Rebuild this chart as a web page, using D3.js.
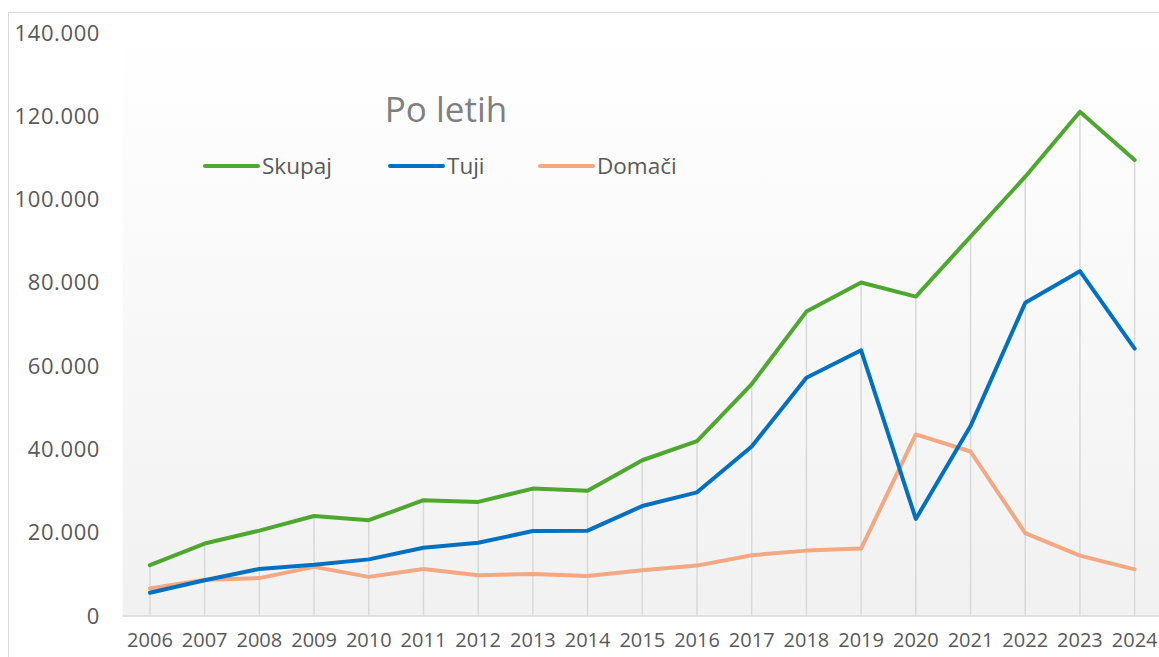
<!DOCTYPE html>
<html>
<head>
<meta charset="utf-8">
<script src="https://cdn.jsdelivr.net/npm/d3@7"></script>
<style>
  html, body { margin: 0; padding: 0; background: #fff; }
  svg { display: block; font-family: "Open Sans", sans-serif; }
</style>
</head>
<body>
<div id="chart"></div>
<script>
// data
var years = ["2006","2007","2008","2009","2010","2011","2012","2013","2014","2015",
             "2016","2017","2018","2019","2020","2021","2022","2023","2024"];
var skupaj = [12200,17400,20500,24000,23000,27800,27400,30600,30100,37400,
              42000,55700,73100,80100,76700,91100,105500,121100,109500];
var tuji   = [5600,8600,11300,12300,13600,16400,17600,20400,20500,26400,
              29700,40700,57200,63800,23300,45600,75200,82800,64200];
var domaci = [6600,8700,9100,11800,9400,11300,9800,10100,9600,11000,
              12100,14600,15700,16200,43600,39500,19900,14500,11200];
var yTicks = [0,20000,40000,60000,80000,100000,120000,140000];
var seriesNames = ["Skupaj","Tuji","Domači"];
var seriesColors = ["#4ea72e","#0070c0","#f2a882"];

var W = 1159, H = 657;
var margin = {left: 122.6, top: 33, right: -3, bottom: 41};

var svg = d3.select("#chart").append("svg")
            .attr("width", W)
            .attr("height", H);

// chart area border
svg.append("rect")
   .attr("x", 8.5).attr("y", 12.5)
   .attr("width", W + 20).attr("height", H + 20)
   .attr("fill", "#fff")
   .attr("stroke", "#d9d9d9");

var x = d3.scaleBand()
          .domain(years)
          .range([margin.left, W - margin.right]);
var y = d3.scaleLinear()
          .domain([0, 140000])
          .range([H - margin.bottom, margin.top]);

// plot area gradient
var grad = svg.append("defs").append("linearGradient")
              .attr("id", "bg").attr("x1", 0).attr("y1", 0).attr("x2", 0).attr("y2", 1);
grad.append("stop").attr("offset", "0%").attr("stop-color", "#ffffff");
grad.append("stop").attr("offset", "100%").attr("stop-color", "#f1f1f1");

svg.append("rect")
   .attr("x", x.range()[0]).attr("y", y(140000))
   .attr("width", x.range()[1] - x.range()[0])
   .attr("height", y(0) - y(140000))
   .attr("fill", "url(#bg)");

function cx(d) { return x(d) + x.bandwidth() / 2; }

// drop lines from the highest point down to the axis
svg.append("g").selectAll("line")
   .data(years)
   .enter().append("line")
   .attr("x1", cx).attr("x2", cx)
   .attr("y1", function (d, i) { return y(Math.max(skupaj[i], tuji[i], domaci[i])); })
   .attr("y2", y(0))
   .attr("stroke", "#d9d9d9")
   .attr("stroke-width", 1.5);

// axis line
svg.append("line")
   .attr("x1", x.range()[0]).attr("x2", x.range()[1])
   .attr("y1", y(0)).attr("y2", y(0))
   .attr("stroke", "#d9d9d9")
   .attr("stroke-width", 1.5);

// y axis labels
var fmt = function (v) { return v === 0 ? "0" : d3.format(",")(v).replace(/,/g, "."); };
var yAxis = svg.append("g")
   .attr("transform", "translate(100,0)")
   .call(d3.axisLeft(y).tickValues(yTicks).tickFormat(fmt).tickSize(0).tickPadding(0));
yAxis.select(".domain").remove();
yAxis.selectAll("text")
     .attr("font-size", "22px")
     .attr("letter-spacing", "0.6px")
     .attr("font-family", "Open Sans, sans-serif")
     .attr("fill", "#595959");

// x axis labels
var xAxis = svg.append("g")
   .attr("transform", "translate(0," + y(0) + ")")
   .call(d3.axisBottom(x).tickSize(0).tickPadding(17));
xAxis.select(".domain").remove();
xAxis.selectAll("text")
     .attr("font-size", "20px")
     .attr("font-family", "Open Sans, sans-serif")
     .attr("fill", "#595959");

// lines
var allSeries = [skupaj, tuji, domaci];
var line = d3.line()
             .x(function (d, i) { return cx(years[i]); })
             .y(function (d) { return y(d); });

// draw order: orange, blue on top of it, green
[2, 1, 0].forEach(function (k) {
  svg.append("path")
     .datum(allSeries[k])
     .attr("d", line)
     .attr("fill", "none")
     .attr("stroke", seriesColors[k])
     .attr("stroke-width", 4)
     .attr("stroke-linejoin", "round")
     .attr("stroke-linecap", "round");
});

// title
svg.append("text")
   .attr("x", 446).attr("y", 122)
   .attr("text-anchor", "middle")
   .attr("font-size", "35px")
   .attr("fill", "#7f7f7f")
   .text("Po letih");

// legend
var legendX = [204, 389, 539];
var legend = svg.append("g").selectAll("g")
   .data(seriesNames)
   .enter().append("g")
   .attr("transform", function (d, i) { return "translate(" + legendX[i] + ",166)"; });
legend.append("line")
      .attr("x1", 1).attr("x2", 54)
      .attr("stroke", function (d, i) { return seriesColors[i]; })
      .attr("stroke-width", 4)
      .attr("stroke-linecap", "round");
legend.append("text")
      .attr("x", 58).attr("y", 8)
      .attr("font-size", "22.5px")
      .attr("fill", "#595959")
      .text(function (d) { return d; });
</script>
</body>
</html>
